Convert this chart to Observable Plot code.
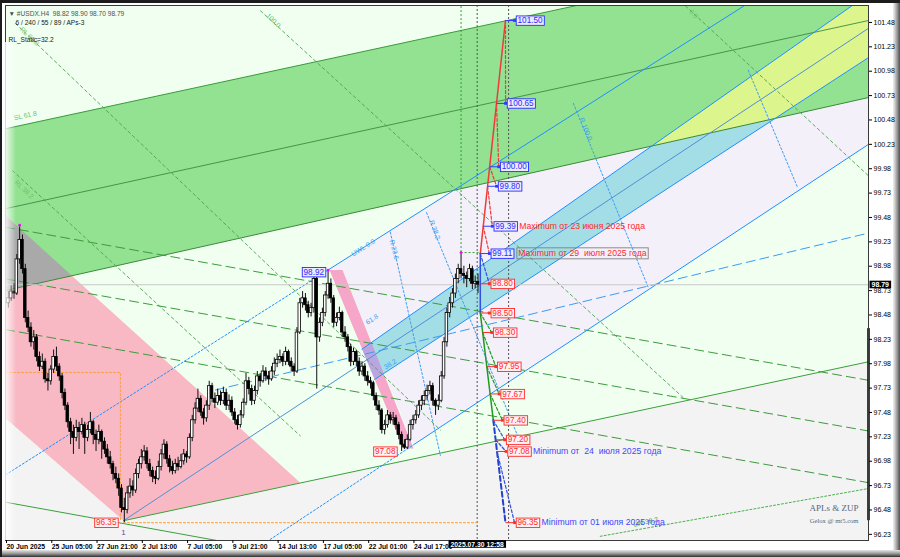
<!DOCTYPE html>
<html>
<head>
<meta charset="utf-8">
<script src="https://cdn.jsdelivr.net/npm/d3@7"></script>
<script src="https://cdn.jsdelivr.net/npm/@observablehq/plot@0.6"></script>
<style>
  html,body{margin:0;padding:0;background:#fff;}
  #wrap{position:relative;width:900px;height:557px;background:#1c1c1c;overflow:hidden;}
  #panel{position:absolute;left:2px;top:3px;width:892px;height:547px;background:#fff;}
  #bevR{position:absolute;left:893px;top:3px;width:7px;height:554px;background:linear-gradient(to right,#f2f2f2 0%,#b0b0b0 45%,#505050 100%);}
  #bevB{position:absolute;left:2px;top:550px;width:898px;height:7px;background:linear-gradient(to bottom,#e6e6e6 0%,#9a9a9a 50%,#303030 100%);}
  #chart{position:absolute;left:0;top:0;}
  #fadeL{position:absolute;left:5px;top:42px;width:11px;height:498px;background:linear-gradient(to right,rgba(255,255,255,.85),rgba(255,255,255,0));pointer-events:none;}
</style>
</head>
<body>
<div id="wrap"><div id="panel"></div><div id="bevR"></div><div id="bevB"></div><div id="chart"></div><div id="fadeL"></div></div>
<script>
// ---------- DATA ----------
// H4 candles, bars 1..167: [open, high, low, close]
const ohlc = [
[98.60,98.72,98.55,98.65],[98.65,98.78,98.62,98.72],[98.72,98.80,98.64,98.70],[98.70,99.10,98.68,99.05],[99.05,99.40,99.00,99.25],[99.25,99.30,98.90,98.95],[98.95,99.00,98.40,98.45],[98.45,98.52,98.30,98.35],[98.35,98.40,98.15,98.20],[98.20,98.32,98.12,98.25],
[98.25,98.28,98.00,98.05],[98.05,98.10,97.90,97.95],[97.95,98.08,97.92,98.00],[98.00,98.03,97.78,97.82],[97.82,97.88,97.70,97.80],[97.80,97.96,97.76,97.92],[97.92,98.12,97.88,98.05],[98.05,98.15,97.90,97.95],[97.95,97.98,97.80,97.85],[97.85,97.88,97.62,97.68],
[97.68,97.72,97.50,97.55],[97.55,97.58,97.32,97.38],[97.38,97.42,97.15,97.28],[97.28,97.35,97.05,97.22],[97.22,97.40,97.18,97.32],[97.32,97.38,97.10,97.28],[97.28,97.42,97.25,97.35],[97.35,97.38,97.05,97.22],[97.22,97.35,97.18,97.30],[97.30,97.48,97.26,97.38],
[97.38,97.40,97.15,97.25],[97.25,97.30,97.08,97.20],[97.20,97.35,97.15,97.28],[97.28,97.30,97.00,97.18],[97.18,97.22,97.05,97.10],[97.10,97.15,96.95,97.02],[97.02,97.08,96.90,96.95],[96.95,96.98,96.78,96.85],[96.85,96.92,96.75,96.80],[96.80,96.85,96.62,96.70],
[96.70,96.74,96.45,96.50],[96.50,96.60,96.35,96.48],[96.48,96.72,96.44,96.65],[96.65,96.80,96.60,96.72],[96.72,96.78,96.62,96.68],[96.68,96.90,96.65,96.85],[96.85,97.00,96.80,96.95],[96.95,97.10,96.90,97.02],[97.02,97.14,96.98,97.08],[97.08,97.12,96.90,96.95],
[96.95,97.00,96.82,96.88],[96.88,96.92,96.76,96.82],[96.82,96.88,96.74,96.80],[96.80,96.98,96.78,96.92],[96.92,97.10,96.88,97.05],[97.05,97.20,97.00,97.15],[97.15,97.18,96.95,97.00],[97.00,97.04,96.86,96.92],[96.92,96.98,96.84,96.88],[96.88,97.00,96.85,96.95],
[96.95,97.02,96.88,96.92],[96.92,97.05,96.90,96.98],[96.98,97.10,96.94,97.05],[97.05,97.08,96.96,97.02],[97.02,97.26,97.00,97.22],[97.22,97.45,97.18,97.40],[97.40,97.58,97.36,97.52],[97.52,97.72,97.48,97.62],[97.62,97.65,97.44,97.48],[97.48,97.52,97.35,97.42],
[97.42,97.60,97.38,97.55],[97.55,97.80,97.50,97.75],[97.75,97.78,97.58,97.62],[97.62,97.68,97.52,97.58],[97.58,97.72,97.55,97.65],[97.65,97.70,97.55,97.60],[97.60,97.74,97.56,97.68],[97.68,97.72,97.50,97.55],[97.55,97.66,97.50,97.60],[97.60,97.64,97.44,97.48],
[97.48,97.52,97.36,97.40],[97.40,97.45,97.30,97.35],[97.35,97.50,97.32,97.45],[97.45,97.62,97.42,97.58],[97.58,97.88,97.55,97.80],[97.80,97.84,97.66,97.72],[97.72,97.76,97.55,97.60],[97.60,97.75,97.56,97.70],[97.70,97.90,97.66,97.85],[97.85,97.88,97.74,97.80],
[97.80,97.96,97.78,97.90],[97.90,97.94,97.80,97.85],[97.85,97.90,97.76,97.82],[97.82,97.95,97.80,97.90],[97.90,98.04,97.86,97.98],[97.98,98.08,97.94,98.02],[98.02,98.12,97.98,98.05],[98.05,98.08,97.95,98.00],[98.00,98.15,97.96,98.10],[98.10,98.12,97.96,98.00],
[98.00,98.04,97.90,97.95],[97.95,97.98,97.85,97.90],[97.90,98.35,97.88,98.30],[98.30,98.65,98.28,98.60],[98.60,98.72,98.55,98.65],[98.65,98.70,98.52,98.58],[98.58,98.62,98.45,98.50],[98.50,98.60,98.46,98.55],[98.55,98.90,98.50,98.85],[98.85,98.88,97.72,98.25],
[98.25,98.45,98.20,98.40],[98.40,98.55,98.36,98.50],[98.50,98.72,98.46,98.68],[98.68,98.94,98.64,98.80],[98.80,98.85,98.60,98.65],[98.65,98.68,98.35,98.40],[98.40,98.50,98.36,98.45],[98.45,98.56,98.42,98.50],[98.50,98.52,98.25,98.30],[98.30,98.36,98.20,98.25],
[98.25,98.28,98.10,98.15],[98.15,98.18,97.95,98.00],[98.00,98.14,97.96,98.10],[98.10,98.12,97.95,98.00],[98.00,98.04,97.85,97.90],[97.90,98.00,97.86,97.95],[97.95,97.98,97.80,97.85],[97.85,97.90,97.75,97.80],[97.80,97.84,97.72,97.78],[97.78,97.80,97.60,97.65],
[97.65,97.68,97.50,97.55],[97.55,97.60,97.45,97.50],[97.50,97.52,97.26,97.30],[97.30,97.40,97.25,97.35],[97.35,97.50,97.32,97.45],[97.45,97.48,97.36,97.40],[97.40,97.48,97.35,97.42],[97.42,97.45,97.30,97.35],[97.35,97.38,97.20,97.25],[97.25,97.28,97.08,97.15],
[97.15,97.20,97.10,97.12],[97.12,97.25,97.10,97.20],[97.20,97.40,97.18,97.35],[97.35,97.45,97.30,97.40],[97.40,97.50,97.36,97.45],[97.45,97.60,97.42,97.55],[97.55,97.65,97.50,97.60],[97.60,97.70,97.55,97.65],[97.65,97.76,97.60,97.70],[97.70,97.80,97.66,97.75],
[97.75,97.78,97.55,97.60],[97.60,97.62,97.45,97.55],[97.55,97.66,97.50,97.60],[97.60,97.90,97.58,97.85],[97.85,98.25,97.82,98.20],[98.20,98.55,98.15,98.50],[98.50,98.66,98.45,98.60],[98.60,98.75,98.55,98.70],[98.70,98.90,98.65,98.85],[98.85,99.00,98.80,98.95],
[98.95,99.12,98.85,98.90],[98.90,98.98,98.80,98.88],[98.88,98.92,98.76,98.85],[98.85,99.00,98.82,98.95],[98.95,98.98,98.74,98.80],[98.80,98.88,98.75,98.82],[98.82,98.90,98.70,98.79]
];

const timeTicks = [0,16,32,48,64,80,96,112,128,144];
const timeLabels = ["20 Jun 2025","25 Jun 05:00","27 Jun 21:00","2 Jul 13:00","7 Jul 05:00","9 Jul 21:00","14 Jul 13:00","17 Jul 05:00","22 Jul 01:00","24 Jul 17:00"];
const priceTicks = [96.23,96.48,96.73,96.98,97.23,97.48,97.73,97.98,98.23,98.48,98.73,98.98,99.23,99.48,99.73,99.98,100.23,100.48,100.73,100.98,101.23,101.48];
const lastPrice = 98.79;
const serverTime = "2025.07.30 12:58";
const serverBar = 166.7;
const futureBar = 177.8;
const headerLines = ["▼ #USDX.H4  98.82 98.90 98.70 98.79", "6 / 240 / 55 / 89 / APs-3", "RL_Static=32.2"];
const watermark = ["APLs & ZUP", "Gelox @ mt5.com"];

// channel / trend lines  [bar, price]
const greenUpper = [[0,100.39],[305,102.30]];
const greenMid   = [[0,99.57],[305,101.50]];
const greenLower = [[0,98.73],[305,100.71]];
const pinkUpper  = [[0,99.50],[104.2,96.76]];
const pinkLower  = [[0,97.42],[41.7,96.37]];
const supportLow = [[41.7,96.37],[305,98.00]];
const supportLeft= [[0,96.56],[95,96.06]];
const fanDash1 = [[0,99.38],[305,97.81]];
const fanDash2 = [[0,98.85],[305,97.29]];
const fanDash3 = [[0,98.33],[305,96.76]];
const rlLine1 = [[90.1,101.60],[239.6,97.63]];
const rlLine2 = [[3.5,101.47],[153.7,97.30]];
const rlLine3 = [[2.5,99.96],[104.2,97.24]];
const rlLine4 = [[240.3,101.65],[304.9,99.91]];
const lwLine  = [[210.2,96.21],[305,96.70]];
const cyanTop    = [[126,98.13],[305,101.77]];
const cyanBottom = [[130.5,97.82],[305,101.12]];
const cyanMid    = [[41.7,96.37],[305,101.42]];
const lavLow = [[90,96.11],[305,100.23]];
const lavLowSolidFrom = 144.2;
const lavTop = [[0,96.84],[261,101.65]];
const lavTopSolidFrom = 114;
const blueDash = [[74.2,97.71],[305,99.32]];
const steep1 = [[136.0,99.33],[153.7,97.04]];
const steep2 = [[148.8,99.53],[182.0,97.17]];
const steep3 = [[200.7,100.65],[227.2,98.76]];
const steep4 = [[262.5,100.99],[279.9,99.79]];
const pinkStrip = [[114.5,98.94],[119.1,98.94],[144.2,97.11],[140.6,97.11]];
const orangeBox = [[0,97.89],[40.6,97.89],[40.6,96.37]];
const orangeLow = [[41.7,96.35],[166.7,96.35]];
const swingHigh = [161, 99.12];
const axisMark = [96.37, 98.34];

// ZUP projection
const zzRed     = [[167.8,99.11],[176.7,101.50]];
const zzBlueTop = [[167.8,99.11],[167.8,98.50]];
const zzGreen   = [[167.8,98.50],[172.4,97.40]];
const zzBlueLow = [[172.4,97.40],[176.7,96.35]];
const upperLevels = [101.50,100.65,100.00,99.80,99.39,99.11];
const lowerLevels = [98.80,98.50,98.30,97.95,97.67,97.40,97.20,97.08,96.35];
const notes = [
  {p:99.39, t:"Maximum от 23 июня 2025 года", c:"#ff2a2a"},
  {p:99.11, t:"Maximum от 29  июля 2025 года", c:"#ff2a2a"},
  {p:97.08, t:"Minimum от  24  июля 2025 года", c:"#4646ff"},
  {p:96.35, t:"Minimum от 01 июля 2025 года", c:"#4646ff"}
];
const pivots = [[5,99.40],[114,98.94],[161,99.12]];
const pivotLabels = [
  {x:114, p:98.92, blue:true},
  {x:140.3, p:97.08, blue:false},
  {x:41.7, p:96.35, blue:false}
];
const fibLabels = [
  {x:3.0, y:100.50, t:"SL 61.8", r:-12, c:"#6cc46c"},
  {x:5.5, y:101.42, t:"RL 61.8", r:44, c:"#6cc46c"},
  {x:3.5, y:99.85, t:"RL 38.2", r:43, c:"#6cc46c"},
  {x:92.5, y:101.56, t:"100.0", r:44, c:"#6cc46c"},
  {x:242, y:101.60, t:"0.0", r:44, c:"#6cc46c"},
  {x:222, y:96.33, t:"LW 38.2", r:-12, c:"#3f9f3f"},
  {x:122.5, y:99.10, t:"UWL 0.0", r:-32, c:"#3d9df0"},
  {x:136.5, y:99.25, t:"R 23.6", r:76, c:"#3d9df0"},
  {x:150.5, y:99.45, t:"R 38.2", r:70, c:"#3d9df0"},
  {x:203.5, y:100.50, t:"R 100.0", r:68, c:"#3d9df0"},
  {x:127.5, y:98.40, t:"61.8", r:-32, c:"#3d9df0"},
  {x:134.0, y:97.94, t:"38.2", r:-32, c:"#3d9df0"}
];

// ---------- GEOMETRY HELPERS ----------
const lineAt = (ln, x) => ln[0][1] + (ln[1][1]-ln[0][1])*(x-ln[0][0])/(ln[1][0]-ln[0][0]);
const X0 = -2, X1 = 308, YT = 102.6;
function signedArea(pts){let s=0;for(let i=0;i<pts.length;i++){const a=pts[i],b=pts[(i+1)%pts.length];s+=a[0]*b[1]-b[0]*a[1];}return s/2;}
function clipPoly(subject, clip){
  const c = signedArea(clip) < 0 ? clip.slice().reverse() : clip;
  let out = subject.slice();
  for (let i=0;i<c.length && out.length;i++){
    const a=c[i], b=c[(i+1)%c.length];
    const cr = p => (b[0]-a[0])*(p[1]-a[1]) - (b[1]-a[1])*(p[0]-a[0]);
    const input = out; out = [];
    for (let j=0;j<input.length;j++){
      const p=input[j], q=input[(j+1)%input.length];
      const dp=cr(p), dq=cr(q);
      const inter = () => { const t = dp/(dp-dq); return [p[0]+t*(q[0]-p[0]), p[1]+t*(q[1]-p[1])]; };
      if (dp>=0){ out.push(p); if (dq<0) out.push(inter()); }
      else if (dq>=0) out.push(inter());
    }
  }
  return out;
}
function vertexOf(p){
  for (const s of [zzRed, zzBlueTop, zzGreen, zzBlueLow]){
    const lo=Math.min(s[0][1],s[1][1]), hi=Math.max(s[0][1],s[1][1]);
    if (p>=lo-1e-9 && p<=hi+1e-9) return s[0][0] + (p-s[0][1])/(s[1][1]-s[0][1])*(s[1][0]-s[0][0]);
  }
  return zzRed[0][0];
}

const mintPoly  = [[X0,YT],[X1,YT],[X1,lineAt(supportLow,X1)],supportLow[0],pinkLower[0],[X0,lineAt(pinkLower,X0)]];
const pinkPoly  = [pinkUpper[0],pinkUpper[1],pinkLower[1],pinkLower[0]];
const greenPoly = [[X0,lineAt(greenUpper,X0)],[X1,lineAt(greenUpper,X1)],[X1,lineAt(greenLower,X1)],[X0,lineAt(greenLower,X0)]];
const lavPoly   = [[pinkStrip[0][0],lineAt(lavTop,pinkStrip[0][0])],lavTop[1],[X1,YT],[X1,lineAt(lavLow,X1)],[pinkStrip[2][0],lineAt(lavLow,pinkStrip[2][0])],pinkStrip[1]];
const cyanPoly  = [cyanTop[0],[X1,lineAt(cyanTop,X1)],[X1,lineAt(cyanBottom,X1)],cyanBottom[0]];
const grayPoly  = clipPoly(pinkPoly, greenPoly);
const yellowPoly= clipPoly(cyanPoly, greenPoly);
const purplePoly= clipPoly(pinkStrip, cyanPoly);

const part = (ln, a, b) => [[a, lineAt(ln,a)],[b, lineAt(ln,b)]];

const candles = ohlc.map((r,i)=>({i:i+1,o:r[0],h:r[1],l:r[2],c:r[3]}));
const up = upperLevels.map(p=>({p, v:vertexOf(p), m:vertexOf(p)+3.2}));
const lo = lowerLevels.map(p=>({p, v:vertexOf(p), m:vertexOf(p)+3.2}));
const conn = (arr, i, j) => [[arr[i].v, arr[i].p],[arr[j].m, arr[j].p]];

// ---------- MARK HELPERS ----------
const P = d=>d[0], Q = d=>d[1];
const poly = (pts, fill) => Plot.line(pts, {x:P, y:Q, fill, stroke:"none", curve:"linear-closed", clip:true});
const seg = (pts, stroke, w, dash) => Plot.line(pts, {x:P, y:Q, stroke, strokeWidth:w ?? 1, strokeDasharray:dash, clip:true});

const marks = [
  Plot.frame({fill:"#f3f3f3", stroke:"none"}),
  poly(mintPoly, "#f0fff0"),
  poly(pinkPoly, "#f9b9c4"),
  poly(lavPoly, "#f4f0fa"),
  poly(greenPoly, "#92e292"),
  poly(grayPoly, "#a9a9a9"),
  poly(cyanPoly, "#a3dde6"),
  poly(yellowPoly, "#dcf58c"),
  poly(pinkStrip, "#f6a6c8"),
  poly(purplePoly, "#b9a6e0"),
  // green structure
  seg(greenUpper, "#3a9a3a", 1),
  seg(greenMid, "#3f8a3f", 0.9),
  seg(greenLower, "#3a8a3a", 1),
  seg(fanDash1, "#3c9c3c", 1, "9,5"),
  seg(fanDash2, "#3c9c3c", 1, "9,5"),
  seg(fanDash3, "#3c9c3c", 1, "9,5"),
  seg(supportLow, "#3aa03a", 1),
  seg(supportLeft, "#3aa03a", 1),
  seg(rlLine1, "#4f9f4f", 0.9, "3,3"),
  seg(rlLine2, "#4f9f4f", 0.9, "3,3"),
  seg(rlLine3, "#4f9f4f", 0.9, "3,3"),
  seg(rlLine4, "#4f9f4f", 0.9, "3,3"),
  seg(lwLine, "#4caf50", 1, "2,2"),
  // blue structure
  seg(cyanTop, "#1e90ff", 1),
  seg(cyanBottom, "#1e90ff", 1),
  seg(cyanMid, "#4f8fd8", 1),
  seg(part(lavLow, lavLow[0][0], lavLowSolidFrom), "#1e90ff", 1, "2,2"),
  seg(part(lavLow, lavLowSolidFrom, lavLow[1][0]), "#1e90ff", 1),
  seg(part(lavTop, lavTop[0][0], lavTopSolidFrom), "#1e90ff", 1, "2,2"),
  seg(part(lavTop, lavTopSolidFrom, lavTop[1][0]), "#1e90ff", 1),
  seg(blueDash, "#3b9cf5", 1, "9,5"),
  seg(steep1, "#3d9df0", 1, "2,2"),
  seg(steep2, "#3d9df0", 1, "2,2"),
  seg(steep3, "#3d9df0", 1, "2,2"),
  seg(steep4, "#3d9df0", 1, "2,2"),
  // verticals / horizontals
  Plot.ruleX([serverBar, futureBar], {stroke:"#555", strokeDasharray:"2,2"}),
  Plot.ruleX([swingHigh[0]], {y1:swingHigh[1], y2:YT, stroke:"#2ea02e", strokeDasharray:"2,2", clip:true}),
  Plot.ruleY([swingHigh[1]], {x1:swingHigh[0], x2:zzRed[0][0], stroke:"#2ea02e", strokeDasharray:"2,2"}),
  seg(orangeBox, "#ffa030", 1, "2,2"),
  seg(orangeLow, "#ffa030", 1, "2,2"),
  Plot.ruleY([lastPrice], {stroke:"#c8c8c8"}),
  // candles
  Plot.ruleX(candles, {x:"i", y1:"l", y2:"h", stroke:"#111", strokeWidth:1}),
  Plot.rect(candles, {x1:d=>d.i-0.45, x2:d=>d.i+0.45, y1:d=>Math.min(d.o,d.c), y2:d=>Math.max(d.o,d.c),
    fill:d=>d.c>=d.o?"#ffffff":"#000000", stroke:"#000", strokeWidth:0.8}),
  Plot.dot(pivots, {x:P, y:Q, r:1.4, fill:"#ff00ff", stroke:"none"}),
  // ZUP projection
  seg(zzRed, "#f03a3a", 1.5),
  seg(zzBlueTop, "#2f50e0", 1.5),
  seg(zzGreen, "#1f9a1f", 1.5),
  seg(zzBlueLow, "#2440d0", 2, "5,3"),
  ...[0,1,2,3,4].map(i=>seg(conn(up,i,i+1), "#f03a3a", 1.2, "3,2")),
  ...[1,2,3,4].map(i=>seg(conn(lo,i,i+1), "#1f9a1f", 1.2, "3,2")),
  seg([[up[5].v, up[5].p],[lo[0].m, lo[0].p]], "#2f50e0", 1.2, "3,2"),
  ...[5,6,7].map(i=>seg(conn(lo,i,i+1), "#2f50e0", 1.2, "3,2")),
  Plot.link(up, {x1:"v", x2:"m", y1:"p", y2:"p", stroke:"#2f3cff"}),
  Plot.link(lo, {x1:"v", x2:"m", y1:"p", y2:"p", stroke:"#ff2a2a"}),
  Plot.dot(up, {x:"m", y:"p", symbol:"square", r:1.6, fill:"#2f3cff"}),
  Plot.dot(lo, {x:"m", y:"p", symbol:"square", r:1.6, fill:"#ff2a2a"}),
  Plot.text(up, {x:"m", y:"p", text:d=>d.p.toFixed(2), dx:3, textAnchor:"start", fill:"#2a2aff", fontSize:8.2}),
  Plot.text(lo, {x:"m", y:"p", text:d=>d.p.toFixed(2), dx:3, textAnchor:"start", fill:"#ff2a2a", fontSize:8.2}),
  Plot.text(notes.filter(n=>n.p!==99.11), {x:d=>vertexOf(d.p)+3.2, y:"p", text:"t", fill:"c", dx:27, textAnchor:"start", fontSize:8.7}),
  Plot.text(notes.filter(n=>n.p===99.11), {x:d=>vertexOf(d.p)+3.2, y:"p", text:"t", fill:"c", dx:29, textAnchor:"start", fontSize:8.7}),
  // pivot labels
  Plot.text(pivotLabels.filter(d=>d.blue), {x:"x", y:"p", text:d=>d.p.toFixed(2), dx:-4, textAnchor:"end", fill:"#2a2aff", fontSize:8.2}),
  Plot.text(pivotLabels.filter(d=>!d.blue), {x:"x", y:"p", text:d=>d.p.toFixed(2), dx:-7, textAnchor:"end", fill:"#ff2a2a", fontSize:8.2}),
  Plot.text([pivotLabels[2]], {x:"x", y:"p", text:()=>"1", dy:10, fill:"#7a3aa0", fontSize:8}),
  // fib labels
  Plot.text(fibLabels, {x:"x", y:"y", text:"t", rotate:"r", fill:"c", fontSize:6.8, textAnchor:"start", clip:true}),
  // thick axis segment
  Plot.ruleX([305], {y1:axisMark[0], y2:axisMark[1], stroke:"#000", strokeWidth:2.5}),
  Plot.frame({stroke:"#3a3a3a"}),
  // axes
  Plot.axisY(priceTicks, {anchor:"right", tickSize:3, tickPadding:2, tickFormat:d=>d.toFixed(2), fontSize:7}),
  Plot.axisX(timeTicks, {anchor:"bottom", tickSize:3, tickPadding:1, tickFormat:d=>timeLabels[timeTicks.indexOf(d)], textAnchor:"start", dx:1, fontSize:6.8, fontWeight:"bold"}),
  Plot.text([lastPrice], {y:d=>d, frameAnchor:"right", dx:3, text:d=>d.toFixed(2), textAnchor:"start", fill:"#fff", fontSize:7, fontWeight:"bold"}),
  Plot.text([serverBar], {x:d=>d, frameAnchor:"bottom", dy:6, text:()=>serverTime, fill:"#fff", fontSize:6.8, fontWeight:"bold"}),
  // header and watermark
  Plot.text([headerLines[0]], {frameAnchor:"top-left", dx:3, dy:6, text:d=>d, textAnchor:"start", fill:"#505050", fontSize:6.6}),
  Plot.text([headerLines[1]], {frameAnchor:"top-left", dx:10, dy:15, text:d=>d, textAnchor:"start", fill:"#202020", fontSize:6.6}),
  Plot.text([headerLines[2]], {frameAnchor:"top-left", dx:3, dy:32, text:d=>d, textAnchor:"start", fill:"#202020", fontSize:6.6}),
  Plot.text([watermark[0]], {frameAnchor:"bottom-right", dx:-10, dy:-30, text:d=>d, textAnchor:"end", fill:"#55667a", fontSize:9, fontFamily:"Liberation Serif, serif"}),
  Plot.text([watermark[1]], {frameAnchor:"bottom-right", dx:-10, dy:-18, text:d=>d, textAnchor:"end", fill:"#55667a", fontSize:6.6, fontFamily:"Liberation Serif, serif"})
];

const chart = Plot.plot({
  width:900, height:557,
  marginLeft:5, marginRight:32, marginTop:5, marginBottom:17,
  x:{domain:[0,305], axis:null},
  y:{domain:[96.167,101.654], axis:null},
  style:{background:"transparent", fontFamily:"Liberation Sans, Arial, sans-serif", fontSize:"7px", color:"#000", overflow:"visible"},
  marks
});
document.getElementById("chart").appendChild(chart);

// label boxes behind texts (matched by their content)
const boxStyle = new Map();
upperLevels.forEach(p=>boxStyle.set(p.toFixed(2), ["#ecebff","#2a2aff",1.3,0.2]));
lowerLevels.forEach(p=>boxStyle.set(p.toFixed(2), ["#fff0f2","#ff2a2a",1.3,0.2]));
pivotLabels.forEach(d=>boxStyle.set(d.p.toFixed(2), d.blue ? ["#ecebff","#2a2aff",1.3,0.2] : ["#fff0f2","#ff2a2a",1.3,0.2]));
boxStyle.set(lastPrice.toFixed(2), ["#000","none",2,0.3]);
boxStyle.set(serverTime, ["#000","none",2,0.3]);
boxStyle.set(notes[1].t, ["none","#808080",1.5,0.5]);
const axisStrings = new Set(priceTicks.map(d=>d.toFixed(2)));
try {
  chart.querySelectorAll("text").forEach(t=>{
    const s = boxStyle.get(t.textContent);
    if (!s || (axisStrings.has(t.textContent))) return;
    const b = t.getBBox();
    const r = document.createElementNS("http://www.w3.org/2000/svg","rect");
    r.setAttribute("x", b.x - s[2]); r.setAttribute("y", b.y - s[3]);
    r.setAttribute("width", b.width + 2*s[2]); r.setAttribute("height", b.height + 2*s[3]);
    const tr = t.getAttribute("transform"); if (tr) r.setAttribute("transform", tr);
    r.setAttribute("fill", s[0]); r.setAttribute("stroke", s[1]); r.setAttribute("stroke-width","0.9");
    t.parentNode.insertBefore(r, t);
  });
} catch(e) { console.error(e); }
</script>
</body>
</html>
